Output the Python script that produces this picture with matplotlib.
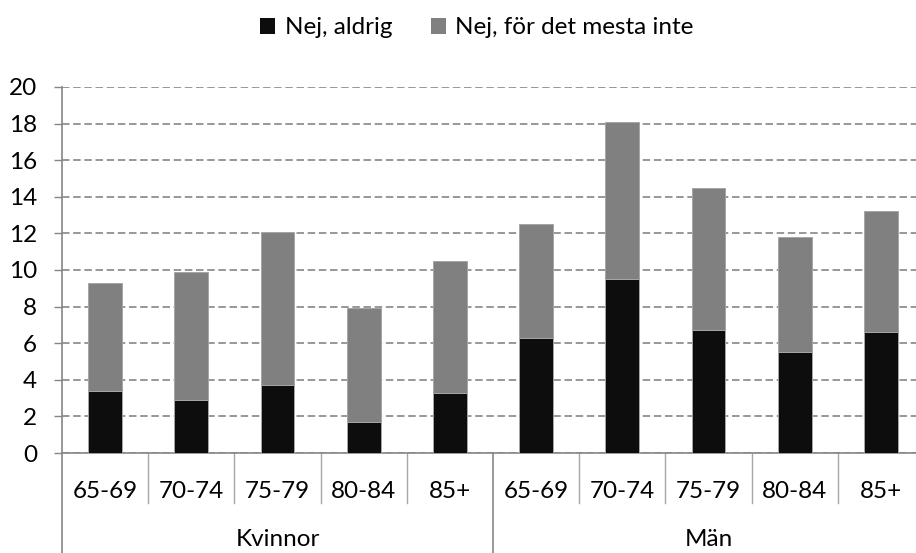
import matplotlib
matplotlib.use("Agg")
import matplotlib.pyplot as plt
from matplotlib.patches import Patch
import numpy as np

plt.rcParams['font.family'] = ['Lato', 'DejaVu Sans']
plt.rcParams['font.size'] = 17.5

ages = ["65-69", "70-74", "75-79", "80-84", "85+"]
groups = ["Kvinnor", "Män"]
series = ["Nej, aldrig", "Nej, för det mesta inte"]
aldrig = [3.4, 2.9, 3.7, 1.7, 3.3, 6.3, 9.5, 6.7, 5.5, 6.6]
mesta_inte = [5.9, 7.0, 8.4, 6.2, 7.2, 6.2, 8.6, 7.8, 6.3, 6.6]

black = '#0d0d0d'
gray = '#808080'
axis_col = '#868686'

fig = plt.figure(figsize=(9.16, 5.53), dpi=100)
W, H = 916, 553
# plot area runs a little past the right edge
ax = fig.add_axes([62 / W, 100 / H, 862 / W, 366 / H])

x = np.arange(len(aldrig))
ax.bar(x, aldrig, width=0.39, color=black, edgecolor='#a6a6a6', linewidth=0.7, zorder=3)
ax.bar(x, mesta_inte, width=0.39, bottom=aldrig, color=gray, edgecolor='#a6a6a6',
       linewidth=0.7, zorder=3)

ax.set_xlim(-0.5, 9.5)
ax.set_ylim(0, 20)
ax.set_yticks(range(0, 21, 2))
ax.yaxis.grid(True, linestyle=(0, (4.5, 2.2)), color=axis_col, linewidth=1.2, zorder=1)
ax.tick_params(axis='y', length=6, width=1.0, color=axis_col, pad=12)
ax.set_xticks([])

for s in ['top', 'right']:
    ax.spines[s].set_visible(False)
ax.spines['left'].set_color(axis_col)
ax.spines['bottom'].set_color(axis_col)
ax.spines['left'].set_linewidth(1.2)
ax.spines['bottom'].set_linewidth(1.2)

# two-level category axis
tr = ax.get_xaxis_transform()
for b in np.arange(0.5, 9.5, 1.0):
    if b == 4.5:
        continue
    ax.plot([b, b], [0, -50 / 366], transform=tr, color='#a6a6a6', lw=1.0, clip_on=False)
for b in [-0.5, 4.5, 9.5]:
    ax.plot([b, b], [0, -100 / 366], transform=tr, color=axis_col, lw=1.2, clip_on=False)
for i in range(len(aldrig)):
    ax.text(i, -39 / 366, ages[i % len(ages)], transform=tr, ha='center', va='center')
for g, name in enumerate(groups):
    ax.text(g * 5 + 2, -87 / 366, name, transform=tr, ha='center', va='center')

handles = [Patch(facecolor=black, edgecolor='none'), Patch(facecolor=gray, edgecolor='none')]
fig.legend(handles, series, loc='center', bbox_to_anchor=(477 / W, 1 - 28 / H), ncol=2,
           frameon=False, handlelength=0.6, handleheight=0.6, handletextpad=0.4,
           columnspacing=1.6)

fig.savefig("out.png", dpi=100)
